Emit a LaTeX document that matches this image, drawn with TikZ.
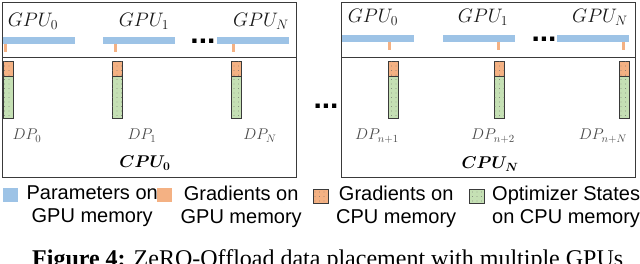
\RequirePackage{fix-cm}
\documentclass[tikz,border=0pt]{standalone}
\usepackage{amsmath}
\usepackage{fontspec}
\setmainfont{Liberation Sans}
\newfontfamily\capfont{Liberation Serif}
\usetikzlibrary{positioning, patterns.meta}
\definecolor{zoblue}{HTML}{9DC3E6}
\definecolor{zoorange}{HTML}{F4B183}
\definecolor{zogreen}{HTML}{C5E0B4}
\definecolor{zodark}{HTML}{3A3A3A}
\definecolor{zogray}{HTML}{4A4A4A}
\tikzset{
  membox/.style={rectangle, draw=zodark, line width=1.3pt, anchor=north west, inner sep=0pt,
    minimum width=294pt},
  param/.style={rectangle, fill=zoblue, minimum width=72pt, minimum height=7pt, inner sep=0pt,
    anchor=north west},
  gradtick/.style={rectangle, fill=zoorange, minimum width=3.5pt, minimum height=8pt, inner sep=0pt,
    anchor=north},
  dotted box/.style={rectangle, draw=zodark, line width=0.5pt, inner sep=0pt, outer sep=0pt,
    postaction={pattern={Dots[distance=4.5pt, radius=0.45pt]}, pattern color=black!60}},
  cpugrad/.style={dotted box, fill=zoorange, minimum width=10pt, minimum height=15pt, anchor=north west},
  cpuopt/.style={dotted box, fill=zogreen, minimum width=10pt, minimum height=42pt},
  gpulabel/.style={anchor=base, inner sep=0pt, text=black!90, font=\fontsize{19.5}{22}\selectfont},
  dplabel/.style={anchor=base, inner sep=0pt, text=zogray, font=\fontsize{15.5}{18}\selectfont},
  cpulabel/.style={anchor=base, inner sep=0pt, font=\fontsize{17}{20}\selectfont},
  ellip/.style={anchor=base, inner sep=0pt, font=\bfseries\fontsize{30}{32}\selectfont},
  legsq/.style={rectangle, minimum width=15pt, minimum height=14pt, inner sep=0pt, anchor=north west},
  legtext/.style={align=center, inner sep=0pt, font=\fontsize{20}{23}\selectfont},
}
\begin{document}
\begin{tikzpicture}[x=1pt, y=-1pt]
    \useasboundingbox (0,0) rectangle (640,264);

    \node[membox, minimum height=55pt] (gpuL) at (2,2) {};
    \node[membox, minimum height=120pt] (cpuL) at (2,57) {};
    \node[membox, minimum height=55pt] (gpuR) at (341,2) {};
    \node[membox, minimum height=120pt] (cpuR) at (341,57) {};

    \foreach \x/\t/\n in {3/5.5/0, 103/115.5/1, 217/233.5/N} {
      \node[param] (parL\n) at (\x,37) {};
      \node[gradtick] (tickL\n) at (\t,44) {};
    }
    \foreach \x/\t/\n in {342/389.5/0, 443/498.5/1, 557/623.5/N} {
      \node[param] (parR\n) at (\x,35) {};
      \node[gradtick] (tickR\n) at (\t,42) {};
    }

    \node[gpulabel] (gpuL0) at (33,27) {$GPU_0$};
    \node[gpulabel] (gpuL1) at (144,27) {$GPU_1$};
    \node[gpulabel] (gpuLN) at (261,27) {$GPU_N$};
    \node[gpulabel] (gpuR0) at (373,23) {$GPU_0$};
    \node[gpulabel] (gpuR1) at (483,23) {$GPU_1$};
    \node[gpulabel] (gpuRN) at (600,23) {$GPU_N$};

    \node[ellip] (dotsL) at (203,44) {...};
    \node[ellip] (dotsR) at (544,42) {...};
    \node[ellip] (dotsMid) at (326,109) {...};

    \foreach \x/\n in {3/L0, 112/L1, 231/LN, 388/R0, 494/R1, 619/RN} {
      \node[cpugrad] (grad\n) at (\x,61) {};
      \node[cpuopt, below=0pt of grad\n] (opt\n) {};
    }

    \node[dplabel] (dpL0) at (27,140) {$DP_0$};
    \node[dplabel] (dpL1) at (142,140) {$DP_1$};
    \node[dplabel] (dpLN) at (260,140) {$DP_N$};
    \node[dplabel] (dpR0) at (377,140) {$DP_{n+1}$};
    \node[dplabel] (dpR1) at (493,140) {$DP_{n+2}$};
    \node[dplabel] (dpRN) at (603,140) {$DP_{n+N}$};

    \node[cpulabel] (cpuL0) at (145,168) {$\boldsymbol{CPU_0}$};
    \node[cpulabel] (cpuRN) at (490,169) {$\boldsymbol{CPU_N}$};

    \node[legsq, fill=zoblue] (keyParam) at (3,188) {};
    \node[legsq, fill=zoorange] (keyGradGpu) at (157,188) {};
    \node[legsq, dotted box, fill=zoorange, anchor=north west] (keyGradCpu) at (313,189) {};
    \node[legsq, dotted box, fill=zogreen, anchor=north west] (keyOpt) at (469,189) {};

    \node[legtext, right=8pt of keyParam.north east, anchor=north west, yshift=2pt] (txtParam) {Parameters on\\GPU memory};
    \node[legtext, right=8pt of keyGradGpu.north east, anchor=north west, yshift=2pt] (txtGradGpu) {Gradients on\\GPU memory};
    \node[legtext, right=8pt of keyGradCpu.north east, anchor=north west, yshift=3pt] (txtGradCpu) {Gradients on\\CPU memory};
    \node[legtext, right=8pt of keyOpt.north east, anchor=north west, yshift=3pt] (txtOpt) {Optimizer States\\on CPU memory};

    \node[anchor=base west, inner sep=0pt, font=\capfont\fontsize{24}{28}\selectfont] (caption) at (32,267)
      {\textbf{Figure 4:} ZeRO-Offload data placement with multiple GPUs};
  \end{tikzpicture}
\end{document}
